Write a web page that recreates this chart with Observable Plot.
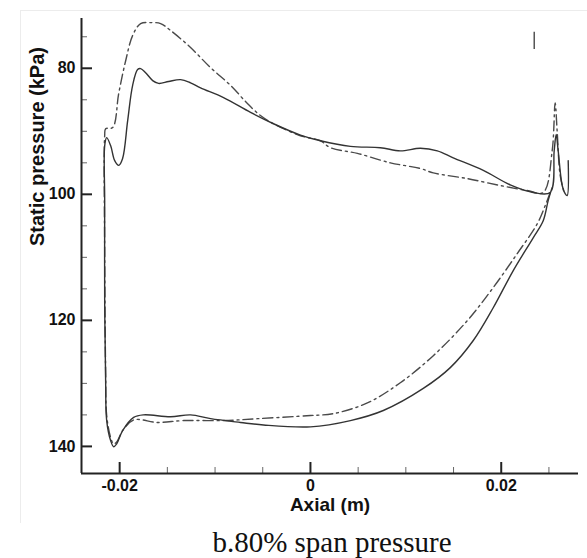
<!DOCTYPE html>
<html><head><meta charset="utf-8">
<script src="https://cdn.jsdelivr.net/npm/d3@7"></script>
<script src="https://cdn.jsdelivr.net/npm/@observablehq/plot@0.6"></script>
<style>
body{margin:0;background:#fff;width:587px;height:558px;position:relative;overflow:hidden}
#frame{position:absolute;left:20px;top:10px;width:580px;height:512px;border-left:1px solid #ececec;border-top:1px solid #ececec}
#chart{position:absolute;left:0;top:0}
#caption{position:absolute;left:332px;top:528px;transform:translateX(-50%);font-family:"Liberation Serif",serif;font-size:29px;line-height:29px;white-space:nowrap;color:#111}
</style></head><body>
<div id="frame"></div><div id="chart"></div><div id="caption">b.80% span pressure</div>
<script>
// Solid curve: pressure side (TE -> LE) then suction side (LE -> TE)
const solidAxial = [0.02534,0.02492,0.02440,0.02335,0.02126,0.01916,0.01707,0.01466,0.01183,0.00764,0.00419,0,-0.00492,-0.00733,-0.01047,-0.01257,-0.01466,-0.01749,-0.01853,-0.01969,-0.02031,-0.02063,-0.02094,-0.02136,-0.02147,-0.02157,-0.02157,-0.02157,
  -0.02136,-0.02094,-0.02052,-0.02010,-0.01969,-0.01916,-0.01864,-0.01812,-0.01780,-0.01728,-0.01654,-0.01592,-0.01487,-0.01361,-0.01257,-0.01152,-0.00911,-0.00628,-0.00387,-0.00105,0.00105,0.00419,0.00733,0.00942,0.01152,0.01330,0.01497,0.01812,0.02094,0.02335,0.02513,0.02555,0.02576,0.02597,0.02639,0.02670,0.02691,0.02702];
const solidPressure = [98.9,101.0,104.2,106.9,112.1,118.0,123.2,127.5,130.8,134.3,135.9,136.9,136.6,136.2,135.6,135.0,135.3,135.0,135.4,137.5,139.6,140.05,139.1,135.9,129.6,116.9,101.0,92.3,
  91.0,92.3,94.65,95.4,94.3,88.3,82.7,80.2,80.05,80.7,81.95,82.4,82.1,81.8,82.3,83.1,84.65,87.0,88.8,90.6,91.5,92.4,92.6,93.1,92.7,93.1,94.2,96.2,98.5,99.7,99.7,93.1,90.5,93.1,98.6,99.9,100.2,94.65];

// Dash-dot curve: pressure side (TE -> LE) then suction side (LE -> TE)
const dashAxial = [0.02513,0.02461,0.02377,0.02168,0.01916,0.01644,0.01288,0.00942,0.00597,0.00241,0,-0.00555,-0.00911,-0.01330,-0.01602,-0.01853,-0.01969,-0.02031,-0.02063,-0.02094,-0.02136,-0.02147,-0.02157,-0.02157,
  -0.02147,-0.02073,-0.02010,-0.01937,-0.01864,-0.01780,-0.01675,-0.01571,-0.01466,-0.01257,-0.01047,-0.00838,-0.00660,-0.00524,-0.00387,-0.00105,0.00105,0.00209,0.00492,0.00838,0.01152,0.01288,0.01644,0.01990,0.02272,0.02440,0.02534,0.02565,0.02586,0.02618,0.02660];
const dashPressure = [99.7,101.8,104.7,109.4,114.8,120.05,125.6,129.9,133.1,134.8,135.1,135.6,135.9,135.9,136.2,135.8,137.5,139.3,139.6,138.6,135.1,128.0,109.0,90.7,
  89.6,89.4,84.0,78.8,74.8,72.9,72.75,72.9,74.0,76.7,79.9,82.7,85.6,87.5,88.8,90.7,91.5,92.6,93.5,95.0,95.9,96.6,97.5,98.6,99.4,99.7,93.1,85.5,89.9,97.0,99.7];

// small vertical stub at top right
const stubAxial = [0.02346];
const stubLow = [74.3];
const stubHigh = [77.0];

const xDomain = [-0.024, 0.0281];
const yDomain = [72.1, 144.3];
const xMajorTicks = [-0.02, 0, 0.02];
const xTickLabels = ["-0.02", "0", "0.02"];
const xMinorTicks = [-0.015, -0.01, -0.005, 0.005, 0.01, 0.015, 0.025];
const yMajorTicks = [80, 100, 120, 140];
const yTickLabels = ["80", "100", "120", "140"];
const yMinorTicks = [75, 85, 90, 95, 105, 110, 115, 125, 130, 135];
const xLabel = "Axial (m)";
const yLabel = "Static pressure (kPa)";

const solid = solidAxial.map((x, i) => ({x, y: solidPressure[i]}));
const dash = dashAxial.map((x, i) => ({x, y: dashPressure[i]}));
const stub = stubAxial.map((x, i) => ({x, y1: stubLow[i], y2: stubHigh[i]}));

const W = 587, H = 522, ML = 81, MR = 9, MT = 18, MB = 49;
const frameW = W - ML - MR, frameH = H - MT - MB;

const chart = Plot.plot({
  width: W, height: H,
  marginLeft: ML, marginRight: MR, marginTop: MT, marginBottom: MB,
  x: {domain: xDomain},
  y: {domain: yDomain, reverse: true},
  style: {fontFamily: "'Liberation Sans', Arial, sans-serif", fontSize: "16px", fontWeight: "bold", color: "#111", background: "transparent", overflow: "visible"},
  marks: [
    Plot.line(dash, {x: "x", y: "y", stroke: "#4a4a4a", strokeWidth: 1.4, strokeDasharray: "10,4,2,4", curve: "catmull-rom"}),
    Plot.line(solid, {x: "x", y: "y", stroke: "#333", strokeWidth: 1.4, curve: "catmull-rom"}),
    Plot.ruleX(stub, {x: "x", y1: "y1", y2: "y2", stroke: "#555", strokeWidth: 1.5}),
    Plot.axisY({ticks: yMajorTicks, tickSize: 0, tickPadding: 6, tickFormat: (d) => yTickLabels[yMajorTicks.indexOf(d)], label: null}),
    Plot.axisX({ticks: xMajorTicks, tickSize: 0, tickPadding: 6, tickFormat: (d) => xTickLabels[xMajorTicks.indexOf(d)], label: null}),
    Plot.tickY(yMajorTicks, {y: (d) => d, insetRight: frameW - 11, stroke: "#222", strokeWidth: 2}),
    Plot.tickY(yMinorTicks, {y: (d) => d, insetRight: frameW - 6, stroke: "#666", strokeWidth: 1}),
    Plot.tickX(xMajorTicks, {x: (d) => d, insetTop: frameH - 11, stroke: "#222", strokeWidth: 2}),
    Plot.tickX(xMinorTicks, {x: (d) => d, insetTop: frameH - 6, stroke: "#666", strokeWidth: 1}),
    Plot.ruleX([xDomain[0]], {stroke: "#222", strokeWidth: 2}),
    Plot.ruleY([yDomain[1]], {stroke: "#222", strokeWidth: 2}),
    Plot.text([xLabel], {frameAnchor: "bottom", dy: 37, text: (d) => d, fontSize: 19, fontWeight: "bold"}),
    Plot.text([yLabel], {frameAnchor: "left", dx: -44, rotate: -90, text: (d) => d, fontSize: 20, fontWeight: "bold"})
  ]
});
document.getElementById("chart").appendChild(chart);
</script>
</body></html>
